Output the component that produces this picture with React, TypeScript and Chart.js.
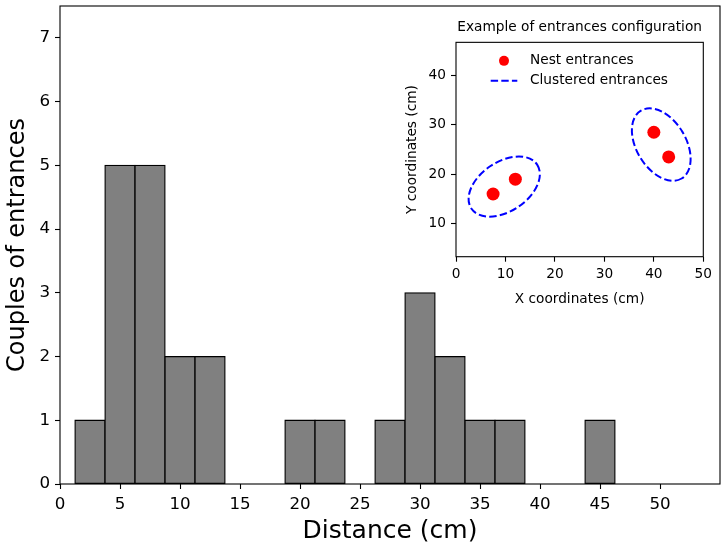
import React, { useEffect, useRef } from "react";
import { Chart, registerables } from "chart.js";

Chart.register(...registerables);

// ---- Main histogram data ----
const binCenters = [2.5, 5, 7.5, 10, 12.5, 20, 22.5, 27.5, 30, 32.5, 35, 37.5, 45];
const binCounts = [1, 5, 5, 2, 2, 1, 1, 1, 3, 2, 1, 1, 1];
const mainXTicks = [0, 5, 10, 15, 20, 25, 30, 35, 40, 45, 50];
const mainYTicks = [0, 1, 2, 3, 4, 5, 6, 7];

// ---- Inset data ----
const nestX = [7.5, 12, 40, 43];
const nestY = [16, 19, 28.5, 23.5];
const clusterCx = [9.75, 41.5];
const clusterCy = [17.5, 26];
const clusterWidth = [16, 16];
const clusterHeight = [10, 10];
const clusterAngle = [33.7, -59];
const insetXTicks = [0, 10, 20, 30, 40, 50];
const insetYTicks = [10, 20, 30, 40];

const FONT = "'DejaVu Sans', sans-serif";

const framePlugin = {
  id: "frame",
  afterDraw(chart: any) {
    const { ctx, chartArea: a } = chart;
    ctx.save();
    ctx.strokeStyle = "#000";
    ctx.lineWidth = 1.1;
    ctx.strokeRect(a.left, a.top, a.right - a.left, a.bottom - a.top);
    ctx.restore();
  },
};

const whiteAreaPlugin = {
  id: "whiteArea",
  beforeDraw(chart: any) {
    const { ctx, chartArea: a } = chart;
    ctx.save();
    ctx.fillStyle = "#fff";
    ctx.fillRect(a.left, a.top, a.right - a.left, a.bottom - a.top);
    ctx.restore();
  },
};

const clusterPlugin = {
  id: "clusters",
  afterDatasetsDraw(chart: any) {
    const { ctx, chartArea: a } = chart;
    const xs = chart.scales.x;
    const ys = chart.scales.y;
    ctx.save();
    ctx.beginPath();
    ctx.rect(a.left, a.top, a.right - a.left, a.bottom - a.top);
    ctx.clip();
    ctx.strokeStyle = "#0000ff";
    ctx.lineWidth = 2;
    ctx.setLineDash([7.4, 3.2]);
    for (let i = 0; i < clusterCx.length; i++) {
      const cx = xs.getPixelForValue(clusterCx[i]);
      const cy = ys.getPixelForValue(clusterCy[i]);
      const rx = Math.abs(xs.getPixelForValue(clusterCx[i] + clusterWidth[i] / 2) - cx);
      const ry = Math.abs(ys.getPixelForValue(clusterCy[i] + clusterHeight[i] / 2) - cy);
      ctx.beginPath();
      ctx.ellipse(cx, cy, rx, ry, (-clusterAngle[i] * Math.PI) / 180, 0, Math.PI * 2);
      ctx.stroke();
    }
    ctx.restore();
  },
};

const legendPlugin = {
  id: "insetLegend",
  afterDraw(chart: any) {
    const { ctx, chartArea: a } = chart;
    ctx.save();
    ctx.font = `13.7px ${FONT}`;
    ctx.fillStyle = "#000";
    ctx.textBaseline = "middle";
    ctx.textAlign = "left";
    const y1 = a.top + 18.5;
    const y2 = a.top + 38.5;
    const handleL = a.left + 34.7;
    const handleR = a.left + 61.3;
    const textX = a.left + 74;
    ctx.beginPath();
    ctx.fillStyle = "#ff0000";
    ctx.arc((handleL + handleR) / 2, y1, 5, 0, Math.PI * 2);
    ctx.fill();
    ctx.fillStyle = "#000";
    ctx.fillText("Nest entrances", textX, y1);
    ctx.beginPath();
    ctx.strokeStyle = "#0000ff";
    ctx.lineWidth = 2;
    ctx.setLineDash([7.4, 3.2]);
    ctx.moveTo(handleL, y2);
    ctx.lineTo(handleR, y2);
    ctx.stroke();
    ctx.setLineDash([]);
    ctx.fillText("Clustered entrances", textX, y2);
    ctx.restore();
  },
};

const zeroPadX = (h: number) => (s: any) => {
  s.height = h;
  s.paddingLeft = 0;
  s.paddingRight = 0;
};
const zeroPadY = (w: number) => (s: any) => {
  s.width = w;
  s.paddingTop = 0;
  s.paddingBottom = 0;
};

function MainChart() {
  const ref = useRef<HTMLCanvasElement | null>(null);
  useEffect(() => {
    if (!ref.current) return;
    const chart = new Chart(ref.current, {
      type: "bar",
      data: {
        datasets: [
          {
            data: binCenters.map((c, i) => ({ x: c, y: binCounts[i] })),
            backgroundColor: "#808080",
            borderColor: "#000",
            borderWidth: 1.3,
            borderSkipped: false,
            inflateAmount: 0.65,
            barPercentage: 1,
            categoryPercentage: 1,
          } as any,
        ],
      },
      options: {
        responsive: false,
        animation: false,
        events: [],
        layout: { padding: { left: 0, top: 6, right: 7, bottom: 0 } },
        plugins: { legend: { display: false }, tooltip: { enabled: false } },
        scales: {
          x: {
            type: "linear",
            min: 0,
            max: 55,
            offset: false,
            afterFit: zeroPadX(64),
            afterBuildTicks: (s: any) => {
              s.ticks = mainXTicks.map((v) => ({ value: v }));
            },
            border: { display: false },
            grid: {
              display: true,
              drawOnChartArea: false,
              drawTicks: true,
              tickLength: 5,
              tickWidth: 1.1,
              tickColor: "#000",
              offset: false,
            },
            ticks: {
              color: "#000",
              font: { family: FONT, size: 16.7 },
              padding: 6,
              maxRotation: 0,
              autoSkip: false,
            },
            title: {
              display: true,
              text: "Distance (cm)",
              color: "#000",
              font: { family: FONT, size: 25 },
              padding: { top: 0, bottom: 2 },
            },
          },
          y: {
            type: "linear",
            min: 0,
            max: 7.5,
            afterFit: zeroPadY(60),
            afterBuildTicks: (s: any) => {
              s.ticks = mainYTicks.map((v) => ({ value: v }));
            },
            border: { display: false },
            grid: {
              display: true,
              drawOnChartArea: false,
              drawTicks: true,
              tickLength: 5,
              tickWidth: 1.1,
              tickColor: "#000",
            },
            ticks: {
              color: "#000",
              font: { family: FONT, size: 16.7 },
              padding: 5,
              autoSkip: false,
            },
            title: {
              display: true,
              text: "Couples of entrances",
              color: "#000",
              font: { family: FONT, size: 24 },
              padding: { top: 3.5, bottom: 0 },
            },
          },
        },
      },
      plugins: [framePlugin],
    });
    return () => chart.destroy();
  }, []);
  return (
    <canvas
      ref={ref}
      width={727}
      height={548}
      style={{ position: "absolute", left: 0, top: 0, width: 727, height: 548 }}
    />
  );
}

function InsetChart() {
  const ref = useRef<HTMLCanvasElement | null>(null);
  useEffect(() => {
    if (!ref.current) return;
    const chart = new Chart(ref.current, {
      type: "scatter",
      data: {
        datasets: [
          {
            label: "Nest entrances",
            data: nestX.map((x, i) => ({ x, y: nestY[i] })),
            backgroundColor: "#ff0000",
            borderWidth: 0,
            pointRadius: 6.5,
          },
        ],
      },
      options: {
        responsive: false,
        animation: false,
        events: [],
        layout: { padding: { left: 0, top: 0, right: 16.7, bottom: 0 } },
        plugins: {
          legend: { display: false },
          tooltip: { enabled: false },
          title: {
            display: true,
            fullSize: false,
            text: "Example of entrances configuration",
            color: "#000",
            font: { family: FONT, size: 13.7, weight: "normal" },
            padding: { top: 18.8, bottom: 7.1 },
          },
        },
        scales: {
          x: {
            type: "linear",
            min: 0,
            max: 50,
            afterFit: zeroPadX(53.3),
            afterBuildTicks: (s: any) => {
              s.ticks = insetXTicks.map((v) => ({ value: v }));
            },
            border: { display: false },
            grid: {
              display: true,
              drawOnChartArea: false,
              drawTicks: true,
              tickLength: 5,
              tickWidth: 1.1,
              tickColor: "#000",
            },
            ticks: {
              color: "#000",
              font: { family: FONT, size: 13.7 },
              padding: 5,
              maxRotation: 0,
              autoSkip: false,
            },
            title: {
              display: true,
              text: "X coordinates (cm)",
              color: "#000",
              font: { family: FONT, size: 13.7 },
              padding: { top: 0, bottom: 2 },
            },
          },
          y: {
            type: "linear",
            min: 3.3,
            max: 46.7,
            afterFit: zeroPadY(61),
            afterBuildTicks: (s: any) => {
              s.ticks = insetYTicks.map((v) => ({ value: v }));
            },
            border: { display: false },
            grid: {
              display: true,
              drawOnChartArea: false,
              drawTicks: true,
              tickLength: 5,
              tickWidth: 1.1,
              tickColor: "#000",
            },
            ticks: {
              color: "#000",
              font: { family: FONT, size: 13.7 },
              padding: 5,
              autoSkip: false,
            },
            title: {
              display: true,
              text: "Y coordinates (cm)",
              color: "#000",
              font: { family: FONT, size: 13.7 },
              padding: { top: 8.8, bottom: 0 },
            },
          },
        },
      },
      plugins: [whiteAreaPlugin, clusterPlugin, framePlugin, legendPlugin],
    });
    return () => chart.destroy();
  }, []);
  return (
    <canvas
      ref={ref}
      width={325}
      height={310}
      style={{ position: "absolute", left: 395, top: 0, width: 325, height: 310 }}
    />
  );
}

export default function App() {
  return (
    <div
      style={{
        position: "absolute",
        left: 0,
        top: 0,
        width: 727,
        height: 548,
        background: "#fff",
        overflow: "hidden",
      }}
    >
      <MainChart />
      <InsetChart />
    </div>
  );
}
